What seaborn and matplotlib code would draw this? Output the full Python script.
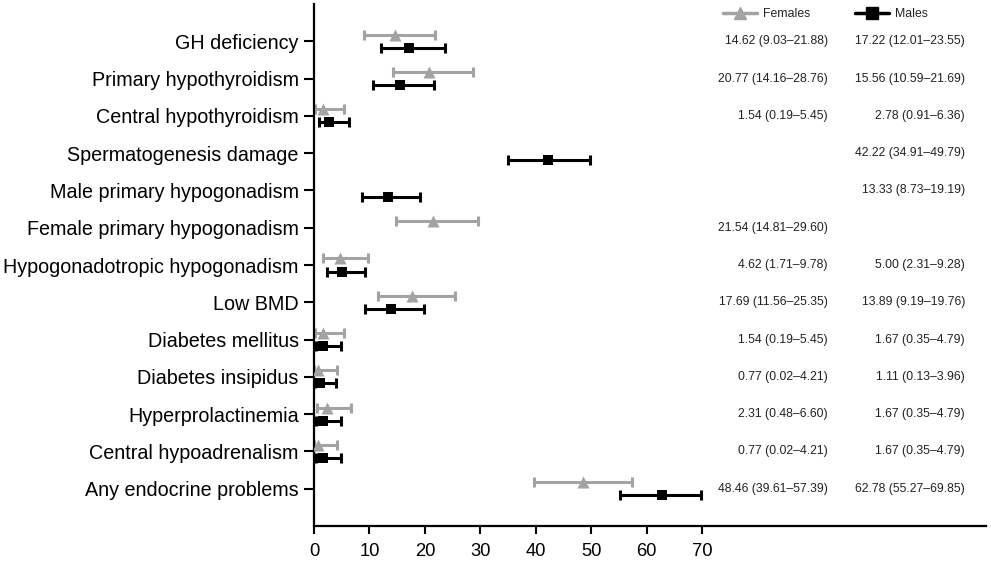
import numpy as np
import pandas as pd
import matplotlib
matplotlib.use("Agg")
import matplotlib.pyplot as plt
import seaborn as sns
from matplotlib.lines import Line2D

categories = ["GH deficiency", "Primary hypothyroidism", "Central hypothyroidism",
              "Spermatogenesis damage", "Male primary hypogonadism",
              "Female primary hypogonadism", "Hypogonadotropic hypogonadism",
              "Low BMD", "Diabetes mellitus", "Diabetes insipidus",
              "Hyperprolactinemia", "Central hypoadrenalism", "Any endocrine problems"]

fem_est = [14.62, 20.77, 1.54, np.nan, np.nan, 21.54, 4.62, 17.69, 1.54, 0.77, 2.31, 0.77, 48.46]
fem_lo = [9.03, 14.16, 0.19, np.nan, np.nan, 14.81, 1.71, 11.56, 0.19, 0.02, 0.48, 0.02, 39.61]
fem_hi = [21.88, 28.76, 5.45, np.nan, np.nan, 29.60, 9.78, 25.35, 5.45, 4.21, 6.60, 4.21, 57.39]

male_est = [17.22, 15.56, 2.78, 42.22, 13.33, np.nan, 5.00, 13.89, 1.67, 1.11, 1.67, 1.67, 62.78]
male_lo = [12.01, 10.59, 0.91, 34.91, 8.73, np.nan, 2.31, 9.19, 0.35, 0.13, 0.35, 0.35, 55.27]
male_hi = [23.55, 21.69, 6.36, 49.79, 19.19, np.nan, 9.28, 19.76, 4.79, 3.96, 4.79, 4.79, 69.85]

xticks = [0, 10, 20, 30, 40, 50, 60, 70]

sns.set_style("ticks")
plt.rcParams['font.family'] = ['Liberation Sans', 'DejaVu Sans']
plt.rcParams['text.color'] = 'black'
plt.rcParams['xtick.color'] = 'black'
plt.rcParams['ytick.color'] = 'black'

fig = plt.figure(figsize=(9.91, 5.68), dpi=100)
ax = fig.add_axes([314 / 991, 1 - 526 / 568, 672 / 991, 522 / 568])

FCOL = "#a3a3a3"
MCOL = "#000000"
off = 0.175
ypos = np.arange(len(categories))

df_f = pd.DataFrame({"y": ypos - off, "x": fem_est, "lo": fem_lo, "hi": fem_hi}).dropna()
df_m = pd.DataFrame({"y": ypos + off, "x": male_est, "lo": male_lo, "hi": male_hi}).dropna()

for df, col in [(df_f, FCOL), (df_m, MCOL)]:
    ax.errorbar(df["x"], df["y"], xerr=[df["x"] - df["lo"], df["hi"] - df["x"]],
                fmt="none", ecolor=col, elinewidth=2.2, capsize=3.8, capthick=2.2, zorder=2)

sns.scatterplot(data=df_f, x="x", y="y", marker="^", s=75, color=FCOL, edgecolor=FCOL,
                linewidth=0, ax=ax, zorder=3)
sns.scatterplot(data=df_m, x="x", y="y", marker="s", s=60, color=MCOL, edgecolor=MCOL,
                linewidth=0, ax=ax, zorder=3)

def fmt(e, l, h):
    return f"{e:.2f} ({l:.2f}\u2013{h:.2f})"

for i in range(len(categories)):
    if not np.isnan(fem_est[i]):
        ax.text(92.7, i, fmt(fem_est[i], fem_lo[i], fem_hi[i]), ha="right", va="center",
                fontsize=8.8, color="#222222")
    if not np.isnan(male_est[i]):
        ax.text(117.4, i, fmt(male_est[i], male_lo[i], male_hi[i]), ha="right", va="center",
                fontsize=8.8, color="#222222")

ax.set_xlim(0, 121.2)
ax.set_ylim(len(categories), -1)
ax.set_yticks(ypos)
ax.set_yticklabels(categories, fontsize=14.2)
ax.set_xticks(xticks)
ax.set_xticklabels([str(t) for t in xticks], fontsize=13.2)
ax.set_xlabel("")
ax.set_ylabel("")
for s in ["top", "right"]:
    ax.spines[s].set_visible(False)
for s in ["left", "bottom"]:
    ax.spines[s].set_linewidth(1.6)
    ax.spines[s].set_color("black")
ax.tick_params(axis="y", width=1.5, length=7, color="black", labelcolor="black", pad=4)
ax.tick_params(axis="x", width=1.5, length=5.5, color="black", labelcolor="black", pad=7)

handles = [
    Line2D([0], [0], color=FCOL, marker="^", markersize=9, lw=2.5),
    Line2D([0], [0], color=MCOL, marker="s", markersize=9, lw=2.5),
]
leg = ax.legend(handles, ["Females", "Males"], ncol=2, frameon=False, fontsize=8.8,
                loc="center left", bbox_to_anchor=((723 - 314) / 672, (526 - 14) / 522),
                borderaxespad=0, borderpad=0, handlelength=2.8,
                columnspacing=3.6, handletextpad=0.5)
for t in leg.get_texts():
    t.set_color("#222222")

fig.savefig("out.png", dpi=100)
